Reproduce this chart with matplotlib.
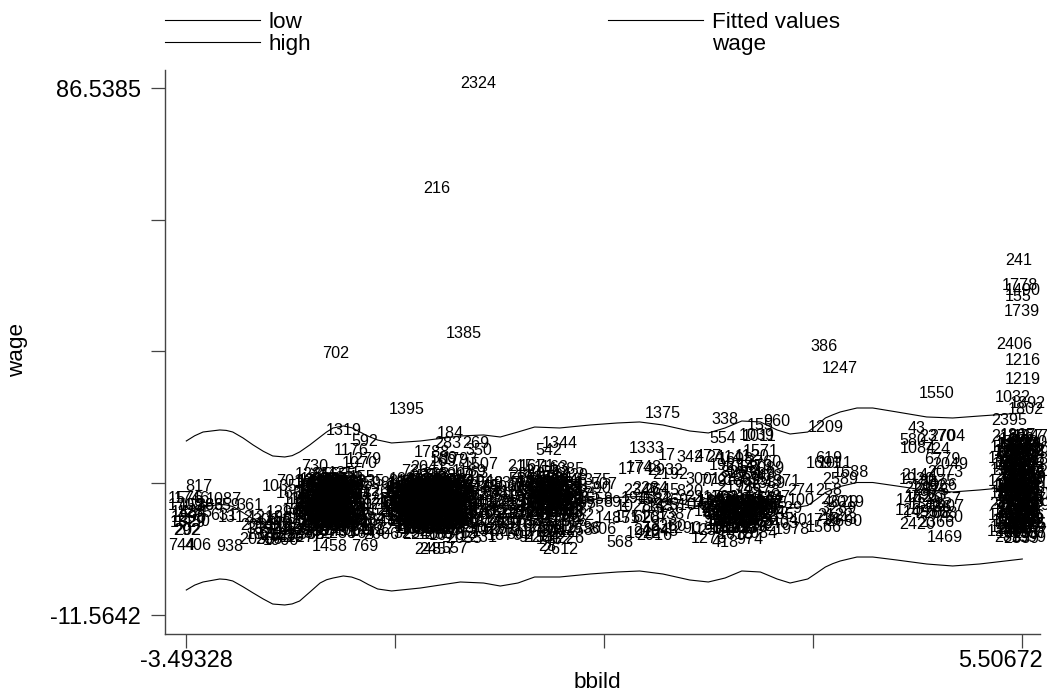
import matplotlib
matplotlib.use("Agg")
import matplotlib.pyplot as plt
from matplotlib.transforms import ScaledTranslation

plt.rcParams['font.family'] = ['Liberation Sans', 'DejaVu Sans']

# smoothed curves
bbild_grid = [-3.49, -3.40, -3.31, -3.13, -3.06, -2.99, -2.88, -2.77, -2.66, -2.56, -2.43, -2.35, -2.27, -2.16,
              -2.05, -1.98, -1.91, -1.80, -1.71, -1.62, -1.53, -1.43, -1.28,
              -0.97, -0.54, -0.29, -0.11, 0.08, 0.26, 0.53, 0.86, 1.15, 1.39, 1.64, 1.93, 2.13, 2.31, 2.49, 2.69,
              2.87, 3.01, 3.20, 3.30, 3.39, 3.47, 3.55, 3.73, 3.90, 4.16, 4.48, 4.76, 5.05, 5.51]
high = [20.83, 21.8, 22.50, 22.88, 22.8, 22.50, 21.4, 20.08, 18.9, 18.04, 17.85, 18.1, 18.78, 20.1,
        21.57, 22.5, 23.25, 23.62, 23.3, 22.50, 21.7, 21.01, 20.46,
        20.83, 21.76, 21.95, 21.57, 22.50, 23.43, 23.25, 23.81, 24.18, 24.37, 23.81, 22.69, 22.32, 23.25, 24.55, 24.37,
        22.88, 22.13, 22.50, 23.8, 25.11, 25.7, 26.23, 26.97, 26.97, 26.23, 25.30, 25.11, 25.48, 26.04]
low = [-6.91, -6.0, -5.42, -4.86, -4.95, -5.23, -6.3, -7.47, -8.6, -9.52, -9.70, -9.5, -8.96, -7.3,
       -5.61, -5.0, -4.68, -4.30, -4.5, -5.05, -5.9, -6.72, -7.09,
       -6.54, -5.42, -5.61, -6.17, -5.61, -4.49, -4.49, -3.93, -3.56, -3.37, -3.93, -5.05, -5.42, -4.68, -3.37, -3.56,
       -4.86, -5.61, -4.86, -3.7, -2.63, -2.0, -1.51, -0.77, -0.77, -1.33, -2.07, -2.44, -2.07, -1.14]
fitted = [6.96, 7.9, 8.54, 9.01, 8.92, 8.63, 7.5, 6.31, 5.15, 4.26, 4.08, 4.3, 4.91, 6.4,
          7.98, 8.75, 9.29, 9.66, 9.4, 8.73, 7.9, 7.15, 6.69,
          7.15, 8.17, 8.17, 7.70, 8.45, 9.47, 9.38, 9.94, 10.31, 10.50, 9.94, 8.82, 8.45, 9.29, 10.59, 10.41,
          9.01, 8.26, 8.82, 10.05, 11.24, 11.85, 12.36, 13.10, 13.10, 12.45, 11.62, 11.34, 11.71, 12.45]

# obs number, bbild, wage
top_obs = [(2324,-0.35,87.3),(216,-0.79,67.9),(1385,-0.50,40.9),(702,-1.88,37.2),(1395,-1.12,26.6),(1319,-1.80,22.7),
           (592,-1.57,20.8),(1176,-1.71,19.0),(1070,-1.62,16.7),(1279,-1.58,17.4),(730,-2.11,16.0),(1375,1.64,26.0),
           (386,3.38,38.5),(1247,3.55,34.4),(1550,4.59,29.6),(1209,3.39,23.4),(338,2.31,24.9),(554,2.28,21.2),
           (960,2.87,24.5),(155,2.69,23.8),(1039,2.65,21.8),(1011,2.68,21.6),(1333,1.47,19.5),(17,1.68,18.2),
           (342,1.93,17.7),(477,2.13,18.0),(1344,0.53,20.3),(542,0.41,19.0),(184,-0.65,22.3),(283,-0.68,20.4),
           (269,-0.37,20.4),(350,-0.34,19.0),(1788,-0.85,18.7),(241,5.47,54.5),(1778,5.48,49.7),(1490,5.51,48.8),
           (155,5.47,47.8),(1739,5.51,45.0),(2406,5.42,38.7),(1216,5.52,35.9),(1219,5.52,32.2),(1032,5.41,29.0),
           (1892,5.57,27.9),(1802,5.55,26.6),(2395,5.37,24.7),(43,4.37,23.2),(580,4.33,21.0),(2704,4.70,21.6),
           (2370,4.60,21.6),(1084,4.38,19.5),(724,4.59,19.2)]

left_obs = [(817,-3.36,12.4),(1087,-3.09,10.0),(1576,-3.49,10.2),(1746,-3.43,10.2),(1709,-3.49,8.9),(1526,-3.38,8.9),
            (886,-3.24,8.9),(359,-3.05,8.9),(361,-2.80,8.9),(1484,-3.46,7.6),(1285,-3.40,7.6),(631,-3.09,7.0),
            (1312,-2.96,6.6),(1296,-3.46,6.5),(1829,-3.47,5.6),(1450,-3.42,5.9),(292,-3.49,4.1),(202,-3.47,4.1),
            (744,-3.54,1.3),(406,-3.36,1.3),(938,-3.02,1.1),(1219,-2.64,6.6),(1501,-2.44,6.4),(1296,-2.44,7.6),
            (1035,-2.49,12.3),(701,-2.38,13.2),(165,-2.38,11.1),(1458,-1.95,1.1),(769,-1.57,1.1)]

small_cluster = [(2031,-2.72,5.1),(355,-2.70,4.3),(1871,-2.66,3.5),(2053,-2.73,2.5),(266,-2.60,2.4),(1966,-2.47,2.3),
                 (308,-2.63,6.1),(1440,-2.55,5.4),(927,-2.52,4.6),(611,-2.58,3.7),(2128,-2.50,3.3),(745,-2.44,4.1),
                 (1682,-2.40,5.2),(436,-2.36,3.1),(1903,-2.33,4.3),(572,-2.30,6.0),(1127,-2.30,2.8),(2260,-2.25,4.9),
                 (2287,-2.22,3.6),(368,-2.15,3.4),(1365,-2.27,7.8),(802,-2.20,7.0),(1642,-2.21,9.0),(1190,-2.27,9.9)]

blob1 = [(1285,-2.13,14.6),(855,-1.98,14.6),(1655,-1.85,14.4),(1355,-1.78,14.8),(155,-1.60,14.1),(1248,-2.07,13.7),
         (2085,-1.95,13.6),(415,-1.88,13.5),(661,-1.75,13.8),(1602,-2.14,12.9),(323,-2.05,12.8),(1744,-1.98,12.9),
         (979,-1.90,12.7),(2210,-1.82,12.9),(1511,-1.73,12.6),(598,-2.16,11.9),(1430,-2.09,11.8),(186,-2.02,12.1),
         (2455,-1.94,11.8),(740,-1.86,12.0),(1863,-1.78,11.8),(1037,-1.70,12.0),(1278,-2.13,10.9),(514,-2.06,11.0),
         (2381,-1.98,10.8),(896,-1.91,11.0),(1509,-1.83,10.9),(344,-1.75,11.0),(2037,-1.68,10.8),(1166,-2.17,10.0),
         (629,-2.09,9.9),(2144,-2.01,10.1),(1392,-1.94,9.9),(470,-1.87,10.0),(1719,-1.79,9.9),(865,-1.71,10.0),
         (2506,-2.14,9.0),(1049,-2.06,9.1),(317,-1.99,8.9),(1624,-1.91,9.1),(948,-1.84,8.9),(2273,-1.76,9.0),
         (1581,-1.68,9.1),(783,-2.17,8.1),(1903,-2.10,8.0),(556,-2.03,8.1),(1226,-1.95,7.9),(2392,-1.88,8.1),
         (691,-1.81,8.0),(1474,-1.73,8.0),(208,-2.15,7.1),(1815,-2.07,7.0),(1063,-2.00,7.1),(437,-1.93,6.9),
         (2169,-1.85,7.1),(1340,-1.78,7.0),(902,-1.70,7.1),(1652,-2.13,6.1),(2028,-2.05,6.0),(575,-1.97,6.1),
         (1197,-1.90,5.9),(2436,-1.82,6.1),(813,-1.75,6.0),(1560,-1.68,6.0),(296,-2.10,5.0),(1738,-2.03,5.1),
         (1001,-1.95,4.9),(2304,-1.87,5.1),(642,-1.80,5.0),(1433,-1.72,5.0),(2119,-2.13,4.1),(887,-2.00,4.0),
         (1276,-1.90,4.1),(461,-1.80,4.0),(1769,-1.70,4.1),(329,-2.05,3.5),(2233,-1.85,3.6)]

blob1_side = [(598,-1.44,13.0),(1835,-1.55,13.2),(2126,-1.50,11.5),(325,-1.45,9.9),(1254,-1.40,9.0),(947,-1.55,10.6),
              (1507,-1.58,8.9),(612,-1.48,7.9),(1555,-1.44,6.9),(2284,-1.54,6.2),(1648,-1.42,5.8),(386,-1.52,5.0),
              (1122,-1.45,4.3),(1778,-1.53,3.9),(2006,-1.39,3.5),(764,-1.60,3.6)]

blob2 = [(314,-1.17,13.3),(736,-1.03,15.1),(1555,-0.90,14.3),(868,-0.80,14.5),(1699,-0.67,14.5),(2212,-0.58,14.2),
         (1024,-1.12,13.6),(492,-1.00,13.5),(1873,-0.92,13.4),(640,-0.83,13.5),(2344,-0.74,13.3),(1158,-0.65,13.5),
         (587,-0.56,13.3),(1930,-1.14,12.7),(273,-1.06,12.5),(1486,-0.97,12.6),(2051,-0.88,12.4),(719,-0.79,12.6),
         (1305,-0.70,12.5),(844,-0.61,12.6),(1622,-0.53,12.4),(1091,-1.18,11.8),(2375,-1.09,11.6),(546,-1.01,11.7),
         (1740,-0.92,11.5),(903,-0.84,11.7),(2180,-0.75,11.5),(337,-0.66,11.7),(1414,-0.58,11.5),(1957,-0.50,11.7),
         (688,-1.20,10.8),(1243,-1.12,10.6),(2096,-1.04,10.8),(475,-0.95,10.6),(1586,-0.87,10.8),(812,-0.78,10.6),
         (2427,-0.70,10.8),(1169,-0.61,10.6),(620,-0.53,10.8),(1812,-0.45,10.6),(1376,-1.23,9.9),(259,-1.15,9.7),
         (1908,-1.06,9.9),(744,-0.98,9.7),(2263,-0.89,9.9),(1035,-0.81,9.7),(1598,-0.72,9.9),(431,-0.64,9.7),
         (2139,-0.55,9.9),(965,-0.47,9.7),(1702,-1.25,9.0),(558,-1.17,8.8),(1267,-1.09,9.0),(2418,-1.00,8.8),
         (826,-0.92,9.0),(1643,-0.83,8.8),(302,-0.75,9.0),(1985,-0.66,8.8),(1118,-0.58,9.0),(679,-0.49,8.8),
         (2305,-1.22,8.1),(1452,-1.14,7.9),(917,-1.05,8.1),(1776,-0.97,7.9),(386,-0.88,8.1),(2074,-0.80,7.9),
         (1203,-0.71,8.1),(594,-0.63,7.9),(1869,-0.54,8.1),(1327,-0.46,7.9),(750,-1.19,7.2),(2241,-1.11,7.0),
         (1508,-1.02,7.2),(443,-0.94,7.0),(1694,-0.85,7.2),(1082,-0.77,7.0),(2356,-0.68,7.2),(638,-0.60,7.0),
         (1925,-0.51,7.2),(1149,-1.15,6.3),(805,-1.07,6.1),(2012,-0.99,6.3),(1361,-0.90,6.1),(527,-0.82,6.3),
         (1741,-0.73,6.1),(2198,-0.65,6.3),(976,-0.56,6.1),(1470,-0.48,6.3),(354,-1.12,5.4),(1614,-1.04,5.2),
         (2283,-0.96,5.4),(709,-0.87,5.2),(1235,-0.79,5.4),(1846,-0.70,5.2),(482,-0.62,5.4),(2069,-0.53,5.2),
         (1110,-1.08,4.5),(1533,-1.00,4.3),(867,-0.92,4.5),(2331,-0.83,4.3),(1407,-0.75,4.5),(615,-0.66,4.3),
         (1958,-0.58,4.5),(323,-1.12,3.6),(2240,-0.97,3.4),(1286,-0.80,3.5),(1670,-0.68,3.2),(2412,-0.55,3.6),
         (248,-0.89,0.6),(2457,-0.79,0.6),(557,-0.60,0.8),(2055,-0.50,2.6),(1697,-0.67,17.0),(1507,-0.32,16.4),
         (589,-0.72,17.6),(1793,-0.55,17.4),(2041,-0.88,15.9),(1189,-0.45,15.2),(763,-0.38,14.8)]

middle = [(1194,-0.36,13.2),(2145,-0.30,12.3),(568,-0.22,13.0),(1806,-0.13,12.1),(937,-0.04,12.9),(1350,-0.32,11.0),
          (2279,-0.24,10.6),(641,-0.16,11.2),(1527,-0.07,10.4),(818,0.01,11.0),(1943,-0.35,9.4),(406,-0.27,9.0),
          (1672,-0.18,9.5),(2088,-0.10,8.9),(1219,-0.02,9.5),(751,0.06,8.8),(2320,-0.36,7.6),(1065,-0.28,7.3),
          (486,-0.20,7.8),(1733,-0.12,7.2),(1394,-0.03,7.8),(2156,0.05,7.3),(627,-0.36,5.9),(1828,-0.27,5.6),
          (1142,-0.18,6.0),(2409,-0.10,5.5),(853,-0.02,6.0),(1576,0.06,5.4),(302,-0.31,4.3),(1987,-0.22,4.0),
          (1261,-0.13,4.4),(719,-0.04,4.0),(2231,-0.34,2.9),(1879,-0.06,3.2),(915,0.23,2.9),(502,0.10,3.5)]

blob3 = [(215,0.11,16.1),(1671,0.28,16.0),(1163,0.44,15.9),(1885,0.61,15.6),(2340,0.18,14.6),(1057,0.34,15.0),
         (712,0.50,14.7),(1429,0.65,14.4),(586,0.12,13.6),(1938,0.25,13.8),(2203,0.38,13.6),(864,0.52,13.8),
         (1346,0.64,13.4),(1095,0.16,12.6),(471,0.29,12.5),(1752,0.42,12.6),(2268,0.55,12.4),(635,0.68,12.4),
         (1518,0.20,11.5),(923,0.33,11.4),(2091,0.45,11.5),(1277,0.58,11.4),(388,0.70,11.2),(1806,0.15,10.5),
         (744,0.28,10.3),(1430,0.41,10.4),(2352,0.53,10.3),(1018,0.66,10.2),(579,0.22,9.3),(1659,0.34,9.2),
         (2116,0.47,9.3),(841,0.60,9.1),(1305,0.73,9.1),(2437,0.17,8.2),(692,0.30,8.1),(1584,0.43,8.2),
         (1176,0.56,8.0),(413,0.68,8.0),(1921,0.21,7.1),(1036,0.33,7.0),(2279,0.46,7.1),(758,0.58,6.9),
         (1462,0.71,6.9),(1813,0.18,6.0),(534,0.31,5.9),(2047,0.43,6.0),(1299,0.56,5.8),(876,0.68,5.9),
         (1605,0.24,4.9),(2184,0.37,4.8),(361,0.50,4.9),(1127,0.62,4.7),(1740,0.30,3.9),(926,0.42,3.8),
         (2012,0.52,3.8),(1258,0.70,4.1),(806,0.99,4.4),(1536,0.79,4.6),(2612,0.54,0.6),(28,0.40,1.2),
         (2284,0.33,2.9),(1432,0.47,2.4),(1226,0.61,2.7),(1975,0.78,10.6),(507,1.00,12.7),(1590,0.90,12.0),
         (1558,0.92,9.9),(775,0.86,8.4),(1375,0.90,13.4)]

between = [(568,1.18,1.9),(14851,1.15,6.4),(892,1.15,9.3),(1774,1.35,15.6),(1743,1.43,15.9),(2192,1.72,14.5),
           (2932,1.67,15.4),(820,1.93,11.5),(2347,1.41,11.7),(2284,1.50,11.9),(2645,1.62,11.7),(1946,1.38,10.1),
           (1583,1.55,9.9),(2469,1.72,9.7),(1028,1.33,8.7),(736,1.52,8.3),(1437,1.66,8.6),(2510,1.80,8.8),
           (1751,1.31,6.5),(628,1.47,6.6),(2073,1.60,6.4),(1387,1.78,7.1),(2404,1.51,4.2),(1922,1.43,3.7),
           (1290,1.87,4.6),(2016,1.55,3.3),(1843,1.62,4.0),(2360,1.70,4.9),(300,2.03,13.6),(779,2.18,13.3)]

blob4 = [(1571,2.69,18.8),(2414,2.30,17.8),(1698,2.43,17.4),(1120,2.60,17.9),(2760,2.72,16.9),(1923,2.33,16.2),
         (1058,2.48,15.9),(1473,2.63,16.0),(2089,2.75,15.7),(826,2.40,14.9),(1654,2.52,14.7),(2309,2.66,14.6),
         (478,2.79,14.3),(1247,2.35,13.6),(1809,2.50,13.4),(635,2.63,13.5),(1389,2.77,12.9),(2178,2.42,12.1),
         (926,2.55,12.3),(1578,2.72,11.7),(2211,2.07,10.3),(1346,2.19,10.0),(703,2.31,10.3),(1865,2.43,10.0),
         (1102,2.55,10.3),(2457,2.67,10.0),(544,2.79,10.2),(1623,2.12,9.0),(2036,2.24,8.8),(889,2.36,9.1),
         (1471,2.48,8.8),(2290,2.60,9.1),(1017,2.72,8.8),(375,2.84,9.1),(1950,2.17,7.7),(1268,2.29,7.5),
         (612,2.41,7.8),(1739,2.53,7.5),(2128,2.65,7.8),(1404,2.77,7.5),(948,2.22,6.4),(1816,2.34,6.2),
         (2369,2.46,6.5),(527,2.58,6.2),(1183,2.70,6.5),(1645,2.30,5.2),(2072,2.42,5.0),(763,2.54,5.2),
         (1492,2.66,5.0),(2301,2.22,4.2),(1190,2.10,4.3),(1276,2.14,2.7),(418,2.31,2.0),(974,2.58,2.4),
         (1618,2.43,3.4),(2084,2.68,3.6)]

blob4_right = [(1371,2.93,13.2),(274,3.13,11.7),(137,2.87,10.4),(100,3.13,9.7),(1255,2.87,7.2),(2403,2.90,5.5),
               (1978,3.03,4.3),(1340,3.01,6.1),(1629,2.95,8.3)]

right_mid = [(619,3.43,17.6),(1691,3.37,16.7),(1011,3.50,16.7),(1688,3.66,14.9),(2589,3.55,13.7),(258,3.43,11.7),
             (4629,3.55,9.4),(2019,3.62,9.4),(3289,3.53,8.3),(1736,3.37,6.1),(1566,3.37,4.8),(2690,3.59,5.8),
             (2122,3.50,6.9),(1843,3.55,6.3),(6779,4.65,17.3),(2049,4.73,16.4),(2073,4.68,15.0),(8075,4.59,13.2),
             (1920,4.37,13.6),(2297,4.43,11.9),(2375,4.53,11.7),(1469,4.68,2.9),(2420,4.38,5.2),(2366,4.59,5.6),
             (750,4.73,6.5),(1204,4.33,7.8),(144,4.29,9.8),(1625,4.44,10.4),(983,4.55,10.6),(2057,4.66,9.9),
             (1318,4.48,9.0),(736,4.60,8.4),(1907,4.70,8.6),(1453,4.42,7.6),(2208,4.55,7.4),(668,4.66,7.3),
             (1792,4.50,12.4),(1036,4.62,12.6),(2144,4.40,14.4)]

right_col = [(2167,5.37,21.7),(1867,5.46,21.8),(2057,5.54,21.7),(1347,5.60,21.6),(1589,5.41,20.6),(726,5.50,20.7),
             (2230,5.58,20.5),(1415,5.35,19.6),(984,5.44,19.5),(1703,5.53,19.6),(2316,5.61,19.4),(552,5.39,18.5),
             (1826,5.48,18.6),(1144,5.57,18.4),(1906,5.33,17.5),(673,5.42,17.4),(2451,5.51,17.5),(1268,5.60,17.3),
             (1735,5.38,16.4),(409,5.47,16.3),(2092,5.56,16.4),(1523,5.35,15.3),(860,5.44,15.4),(1987,5.53,15.2),
             (1172,5.61,15.2),(2368,5.40,14.2),(634,5.49,14.3),(1450,5.58,14.1),(1794,5.33,13.3),(295,5.43,13.2),
             (2205,5.52,13.2),(1061,5.60,13.0),(1639,5.38,12.1),(887,5.47,12.2),(2423,5.56,12.0),(1316,5.35,11.1),
             (741,5.44,11.1),(1952,5.53,11.0),(2120,5.61,10.9),(518,5.41,10.0),(1488,5.50,10.0),(1007,5.58,9.9),
             (2277,5.35,9.0),(1683,5.45,9.0),(362,5.54,8.9),(1239,5.62,8.8),(1876,5.39,7.9),(2044,5.48,7.9),
             (795,5.57,7.8),(1421,5.33,6.9),(2336,5.43,6.8),(1128,5.52,6.9),(606,5.60,6.7),(1765,5.38,5.8),
             (2189,5.47,5.8),(943,5.56,5.7),(1534,5.35,4.8),(2402,5.44,4.7),(1206,5.53,4.8),(478,5.61,4.6),
             (1247,5.32,3.9),(1819,5.42,3.7),(2071,5.51,3.8),(1357,5.59,3.6),(2859,5.40,2.8),(2839,5.50,2.7),
             (1399,5.58,2.9),(2540,5.44,12.6),(1671,5.52,16.9),(1293,5.42,18.0),(2118,5.55,13.6),(859,5.46,11.6),
             (1708,5.51,8.4),(2263,5.41,5.3),(934,5.56,20.0),(1472,5.45,21.1)]

# the solid black middles of the clusters
blob1_core = [(1412,-2.10,13.2),(2075,-2.02,13.4),(806,-1.93,13.1),(1598,-1.84,13.3),(2321,-1.76,13.1),(953,-2.12,12.4),
              (1741,-2.03,12.3),(264,-1.95,12.5),(1180,-1.86,12.3),(2490,-1.77,12.4),(1367,-2.10,11.4),(602,-2.01,11.5),
              (1924,-1.92,11.3),(1015,-1.84,11.5),(2257,-1.75,11.3),(731,-2.13,10.5),(1646,-2.04,10.4),(2388,-1.95,10.6),
              (419,-1.87,10.4),(1203,-1.78,10.6),(1849,-2.11,9.5),(978,-2.02,9.4),(2162,-1.93,9.6),(1533,-1.85,9.4),
              (694,-1.76,9.6),(2416,-2.13,8.6),(1078,-2.04,8.5),(1775,-1.95,8.6),(350,-1.87,8.4),(1462,-1.78,8.6),
              (2093,-2.11,7.6),(866,-2.02,7.5),(1309,-1.94,7.6),(2245,-1.85,7.4),(1620,-1.76,7.6),(538,-2.09,6.6),
              (1956,-2.00,6.5),(1134,-1.91,6.6),(2372,-1.83,6.4),(787,-1.74,6.6),(1491,-2.07,5.6),(2206,-1.98,5.5),
              (643,-1.90,5.6),(1815,-1.81,5.4),(1052,-1.72,5.6)]

blob2_core = [(1734,-1.12,13.0),(529,-1.03,13.1),(2167,-0.94,12.9),(1316,-0.85,13.1),(880,-0.76,12.9),(2403,-0.67,13.1),
              (1592,-0.58,12.9),(1047,-1.15,12.1),(1988,-1.06,12.2),(362,-0.97,12.0),(1471,-0.88,12.2),(2225,-0.79,12.0),
              (698,-0.70,12.2),(1836,-0.61,12.0),(1253,-1.17,11.2),(2312,-1.08,11.1),(817,-0.99,11.3),(1609,-0.90,11.1),
              (445,-0.81,11.3),(2084,-0.72,11.1),(1162,-0.63,11.3),(1925,-0.54,11.1),(573,-1.19,10.3),(1378,-1.10,10.2),
              (2446,-1.01,10.4),(934,-0.92,10.2),(1715,-0.83,10.4),(1201,-0.74,10.2),(2053,-0.65,10.4),(386,-0.56,10.2),
              (1554,-1.21,9.4),(760,-1.12,9.3),(2139,-1.03,9.5),(1426,-0.94,9.3),(1028,-0.85,9.5),(1877,-0.76,9.3),
              (2274,-0.67,9.5),(612,-0.58,9.3),(1343,-1.19,8.5),(2098,-1.10,8.4),(495,-1.01,8.6),(1686,-0.92,8.4),
              (1117,-0.83,8.6),(2361,-0.74,8.4),(829,-0.65,8.6),(1550,-0.56,8.4),(1964,-1.17,7.6),(303,-1.08,7.5),
              (1425,-0.99,7.7),(2210,-0.90,7.5),(1072,-0.81,7.7),(1793,-0.72,7.5),(664,-0.63,7.7),(2336,-0.54,7.5),
              (1238,-1.14,6.7),(1872,-1.05,6.6),(941,-0.96,6.8),(2153,-0.87,6.6),(517,-0.78,6.8),(1609,-0.69,6.6),
              (1306,-0.60,6.8),(2026,-1.11,5.8),(728,-1.02,5.7),(1491,-0.93,5.9),(2387,-0.84,5.7),(1156,-0.75,5.9),
              (1760,-0.66,5.7),(438,-0.57,5.9),(1944,-1.05,4.9),(1228,-0.96,4.8),(2179,-0.87,5.0),(593,-0.78,4.8),
              (1647,-0.69,5.0)]

blob3_core = [(1243,0.26,13.1),(2076,0.37,13.0),(685,0.48,13.2),(1531,0.59,13.0),(1920,0.24,12.0),(372,0.35,11.9),
              (1465,0.46,12.1),(2218,0.57,11.9),(806,0.27,10.9),(1694,0.38,10.8),(1135,0.49,11.0),(2361,0.60,10.8),
              (547,0.25,9.8),(1878,0.36,9.7),(1026,0.47,9.9),(2143,0.58,9.7),(1392,0.27,8.7),(763,0.38,8.6),
              (2075,0.49,8.8),(1618,0.60,8.6),(1204,0.26,7.6),(2290,0.37,7.5),(458,0.48,7.7),(1743,0.59,7.5)]

blob4_core = [(1684,2.20,9.5),(2231,2.31,9.4),(793,2.42,9.6),(1452,2.53,9.4),(1916,2.64,9.6),(1077,2.75,9.4),
              (2348,2.25,8.3),(616,2.36,8.2),(1723,2.47,8.4),(1289,2.58,8.2),(2054,2.69,8.4),(438,2.22,7.1),
              (1865,2.33,7.0),(1136,2.44,7.2),(2417,2.55,7.0),(972,2.66,7.2),(1540,2.30,5.9),(2106,2.41,5.8),
              (745,2.52,6.0),(1398,2.63,5.8),(1821,2.36,4.6),(1053,2.47,4.5),(2276,2.58,4.7)]

right_core = [(1438,5.43,20.2),(2076,5.52,20.2),(915,5.47,19.0),(1762,5.56,19.0),(1204,5.40,18.9),(2353,5.46,17.9),
              (637,5.55,17.9),(1589,5.42,16.9),(2127,5.50,16.8),(1046,5.46,15.8),(1873,5.55,15.8),(428,5.41,15.8),
              (2291,5.48,14.8),(1365,5.56,14.7),(742,5.42,14.7),(1956,5.46,13.7),(1112,5.54,13.7),(2408,5.48,12.7),
              (583,5.56,12.6),(1627,5.41,12.5),(2035,5.50,11.6),(1279,5.43,11.5),(864,5.56,11.5),(1794,5.47,10.5),
              (2316,5.54,10.5),(1048,5.41,10.5),(497,5.47,9.5),(1683,5.55,9.4),(2152,5.42,9.4),(1231,5.49,8.9),
              (765,5.55,8.4),(1906,5.44,8.4),(2374,5.50,7.4),(1118,5.42,7.3),(628,5.56,7.3),(1542,5.47,6.3),
              (2089,5.55,6.2),(1376,5.41,6.2),(834,5.49,5.2),(1725,5.57,5.2),(2260,5.44,4.3),(1097,5.52,4.3)]

obs_groups = [top_obs, left_obs, small_cluster, blob1, blob1_side, blob2, middle, blob3,
              between, blob4, blob4_right, right_mid, right_col]
core_groups = [blob1_core, blob2_core, blob3_core, blob4_core, right_core]

xticks = [-3.49328, -1.24328, 1.00672, 3.25672, 5.50672]
xticklabels = ['-3.49328', '', '', '', '5.50672']
yticks = [-11.5642, 12.9614, 37.4871, 62.0128, 86.5385]
yticklabels = ['-11.5642', '', '', '', '86.5385']

fig = plt.figure(figsize=(10.47, 6.95), dpi=100)
ax = fig.add_axes([165/1047, 61/695, 875/1047, 564/695])

line_low, = ax.plot(bbild_grid, low, color='k', lw=0.8, label='low')
line_high, = ax.plot(bbild_grid, high, color='k', lw=0.8, label='high')
line_fit, = ax.plot(bbild_grid, fitted, color='k', lw=0.8, label='Fitted values')
line_wage, = ax.plot([], [], color='none', label='wage')

for group in obs_groups:
    for obs, x, y in group:
        ax.text(x, y, str(obs), fontsize=11.6, ha='center', va='center', color='k')
for group in core_groups:
    for obs, x, y in group:
        ax.text(x, y, str(obs), fontsize=11.6, ha='center', va='center', color='k', fontweight='bold')

ax.set_xlim(-3.7194, 5.7005)
ax.set_ylim(-15.101, 89.889)
ax.set_xticks(xticks)
ax.set_xticklabels(xticklabels)
ax.set_yticks(yticks)
ax.set_yticklabels(yticklabels)
ax.tick_params(axis='both', length=10, width=0.9, color='#444444', labelsize=16.9)
ax.tick_params(axis='x', pad=0.5)
ax.tick_params(axis='y', pad=7.5)
ax.spines['top'].set_visible(False)
ax.spines['right'].set_visible(False)
ax.spines['left'].set_linewidth(1.0)
ax.spines['bottom'].set_linewidth(1.0)
ax.spines['left'].set_color('#444444')
ax.spines['bottom'].set_color('#444444')

# last x label sits left of its tick so it stays on the page
last_label = ax.get_xticklabels()[-1]
last_label.set_transform(last_label.get_transform() + ScaledTranslation(-0.22, 0, fig.dpi_scale_trans))

fig.text(18/1047, 1 - 350/695, 'wage', rotation=90, fontsize=16.2, ha='center', va='center')
fig.text(597/1047, 1 - 682/695, 'bbild', fontsize=16.2, ha='center', va='center')

fig.legend(handles=[line_low, line_high, line_fit, line_wage], ncol=2, loc='upper left',
           bbox_to_anchor=(147/1047, 1 + 6/695), frameon=False, fontsize=16.2,
           handlelength=4.2, handletextpad=0.4, columnspacing=13.2, labelspacing=0.06, borderpad=0.3)

fig.savefig('out.png', dpi=100)
